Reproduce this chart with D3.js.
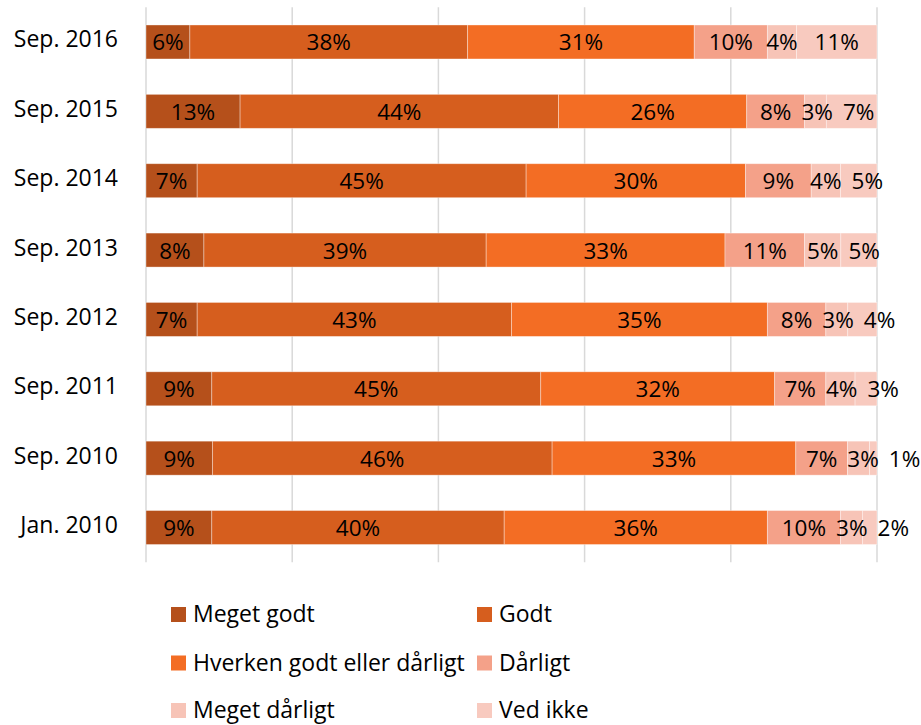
<!DOCTYPE html>
<html>
<head>
<meta charset="utf-8">
<script src="https://cdn.jsdelivr.net/npm/d3@7/dist/d3.min.js"></script>
<style>
  html, body { margin: 0; padding: 0; background: #fff; }
  svg { display: block; font-family: "Open Sans", "Noto Sans", sans-serif; }
</style>
</head>
<body>
<svg id="chart" width="921" height="725"></svg>
<script>
// Survey periods, top to bottom
const periods = ["Sep. 2016", "Sep. 2015", "Sep. 2014", "Sep. 2013", "Sep. 2012", "Sep. 2011", "Sep. 2010", "Jan. 2010"];

// Answer categories (stack order, left to right)
const answers = ["Meget godt", "Godt", "Hverken godt eller dårligt", "Dårligt", "Meget dårligt", "Ved ikke"];
const answerColors = ["#B5501B", "#D65E1E", "#F36D24", "#F4A189", "#F7C4B7", "#F8CABF"];

// Share of respondents (%) per period, one array per answer
const megetGodt    = [6, 13, 7, 8, 7, 9, 9, 9];
const godt         = [38, 44, 45, 39, 43, 45, 46, 40];
const hverken      = [31, 26, 30, 33, 35, 32, 33, 36];
const daarligt     = [10, 8, 9, 11, 8, 7, 7, 10];
const megetDaarligt= [4, 3, 4, 5, 3, 4, 3, 3];
const vedIkke      = [11, 7, 5, 5, 4, 3, 1, 2];

// Gridline positions (share of 100%)
const gridTicks = [0, 0.2, 0.4, 0.6, 0.8, 1];

const series = [megetGodt, godt, hverken, daarligt, megetDaarligt, vedIkke];
const rows = periods.map((p, i) => {
  const r = { period: p };
  answers.forEach((a, j) => { r[a] = series[j][i]; });
  return r;
});

const svg = d3.select("#chart");
const plot = { left: 146, right: 877, top: 7.3, bottom: 562.2 };

const x = d3.scaleLinear().domain([0, 1]).range([plot.left, plot.right]);
const y = d3.scaleBand().domain(periods).range([plot.top, plot.bottom])
  .paddingInner(0.51).paddingOuter(0.255);
const color = d3.scaleOrdinal().domain(answers).range(answerColors);

// Vertical gridlines
svg.append("g").attr("class", "grid")
  .selectAll("line").data(gridTicks).join("line")
  .attr("x1", d => x(d)).attr("x2", d => x(d))
  .attr("y1", plot.top).attr("y2", plot.bottom)
  .attr("stroke", "#D9D9D9").attr("stroke-width", 1.5);

// 100% stacked bars
const stacked = d3.stack().keys(answers).offset(d3.stackOffsetExpand)(rows);

const layers = svg.append("g").attr("class", "bars")
  .selectAll("g").data(stacked).join("g")
  .attr("fill", d => color(d.key));

layers.selectAll("rect").data(d => d.map(s => ({ s, key: d.key }))).join("rect")
  .attr("x", d => x(d.s[0]))
  .attr("width", d => x(d.s[1]) - x(d.s[0]))
  .attr("y", d => y(d.s.data.period))
  .attr("height", y.bandwidth())
  .attr("stroke", "#fff").attr("stroke-opacity", 0.45).attr("stroke-width", 0.8);

// Category labels
svg.append("g").attr("class", "y-labels")
  .selectAll("text").data(periods).join("text")
  .attr("x", 118)
  .attr("y", d => y(d) + y.bandwidth() / 2 + 5.5)
  .attr("text-anchor", "end")
  .attr("font-size", 23)
  .attr("fill", "#000")
  .text(d => d);

// Data labels, centred in each segment and nudged right when they would collide
const labelGroup = svg.append("g").attr("class", "data-labels");
periods.forEach((p, i) => {
  let prevRight = -Infinity;
  stacked.forEach(layer => {
    const s = layer[i];
    const t = labelGroup.append("text")
      .attr("y", y(p) + y.bandwidth() / 2 + 8.5)
      .attr("text-anchor", "middle")
      .attr("font-size", 22.5)
      .attr("fill", "#000")
      .text(s.data[layer.key] + "%");
    const w = t.node().getComputedTextLength();
    let cx = (x(s[0]) + x(s[1])) / 2;
    if (cx - w / 2 < prevRight + 10) cx = prevRight + 10 + w / 2;
    t.attr("x", cx);
    prevRight = cx + w / 2;
  });
});

// Legend: two columns, three rows
const legend = svg.append("g").attr("class", "legend");
const legendCols = [171, 477];
const legendRows = [607, 655.5, 703];
answers.forEach((a, i) => {
  const lx = legendCols[i % 2];
  const ly = legendRows[Math.floor(i / 2)];
  legend.append("rect")
    .attr("x", lx).attr("y", ly).attr("width", 15).attr("height", 15)
    .attr("fill", color(a));
  legend.append("text")
    .attr("x", lx + 22).attr("y", ly + 15)
    .attr("font-size", 23)
    .attr("fill", "#000")
    .text(a);
});
</script>
</body>
</html>
